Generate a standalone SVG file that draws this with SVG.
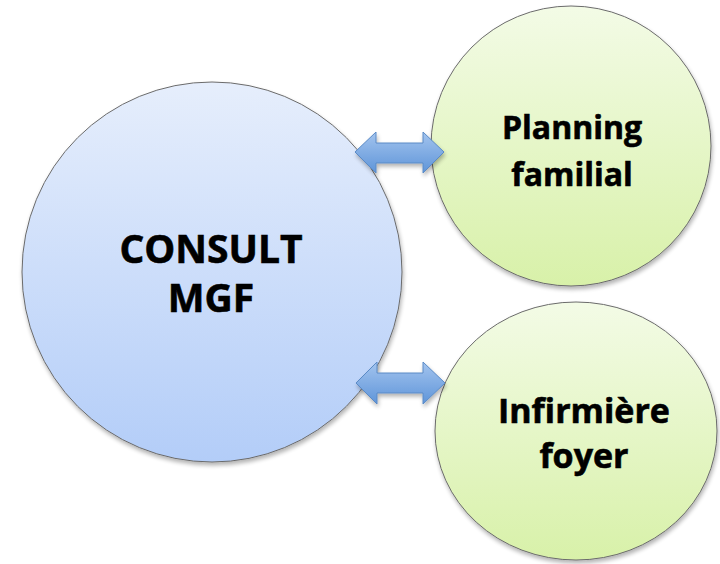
<svg xmlns="http://www.w3.org/2000/svg" width="720" height="564" viewBox="0 0 720 564">
  <style>
    .node { stroke: #6b6b6b; stroke-width: 1; filter: url(#shadow); }
    .lbl { font-family: "Open Sans", "Liberation Sans", sans-serif; font-weight: bold; fill: #000; stroke: #000; stroke-width: 0.6; text-anchor: middle; }
    .arrow { fill: url(#gArrow); stroke: #5a8ac6; stroke-width: 1; filter: url(#shadow); }
  </style>
  <defs>
    <linearGradient id="gBlue" x1="0" y1="0" x2="0" y2="1">
      <stop offset="0" stop-color="#e6eefc"/>
      <stop offset="1" stop-color="#b3cdf8"/>
    </linearGradient>
    <linearGradient id="gGreen" x1="0" y1="0" x2="0" y2="1">
      <stop offset="0" stop-color="#f3fbe6"/>
      <stop offset="1" stop-color="#d8f1a9"/>
    </linearGradient>
    <linearGradient id="gArrow" x1="0" y1="0" x2="0" y2="1">
      <stop offset="0" stop-color="#a3c4ee"/>
      <stop offset="1" stop-color="#5f95d9"/>
    </linearGradient>
    <filter id="shadow" x="-10%" y="-10%" width="125%" height="125%">
      <feGaussianBlur in="SourceAlpha" stdDeviation="2"/>
      <feOffset dx="1" dy="3" result="b"/>
      <feComponentTransfer><feFuncA type="linear" slope="0.3"/></feComponentTransfer>
      <feMerge><feMergeNode/><feMergeNode in="SourceGraphic"/></feMerge>
    </filter>
  </defs>
  <rect width="720" height="564" fill="#ffffff"/>
  <g id="consult">
    <circle class="node" cx="212" cy="272" r="190" fill="url(#gBlue)"/>
    <text class="lbl" x="211" y="263" font-size="39">CONSULT</text>
    <text class="lbl" x="211" y="312" font-size="39">MGF</text>
  </g>
  <g id="planning">
    <circle class="node" cx="571" cy="146" r="140" fill="url(#gGreen)"/>
    <text class="lbl" x="572" y="139" font-size="32">Planning</text>
    <text class="lbl" x="572" y="186" font-size="32">familial</text>
  </g>
  <g id="infirmiere">
    <ellipse class="node" cx="576" cy="431" rx="141" ry="129" fill="url(#gGreen)"/>
    <text class="lbl" x="584" y="423" font-size="34">Infirmière</text>
    <text class="lbl" x="584" y="468" font-size="34">foyer</text>
  </g>
  <g id="connectors">
    <path class="arrow" d="M355,152 L376,132 L376,143 L423,143 L423,132 L444,152 L423,173 L423,163 L376,163 L376,173 Z"/>
    <path class="arrow" d="M356,383 L377,362 L377,373 L423,373 L423,362 L445,383 L423,404 L423,393 L377,393 L377,404 Z"/>
  </g>
</svg>
